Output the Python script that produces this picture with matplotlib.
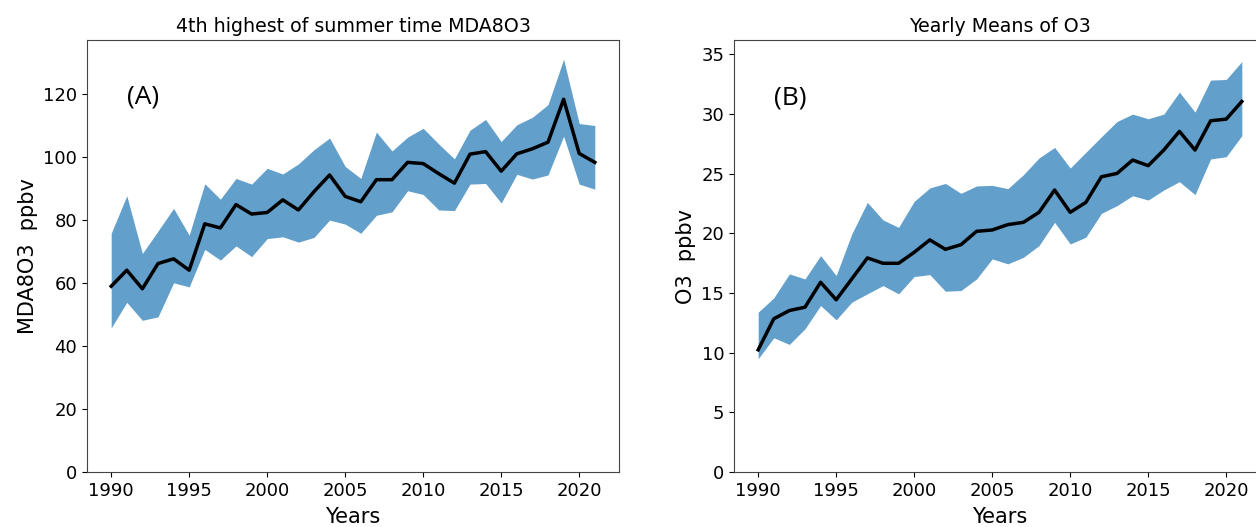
import numpy as np
import matplotlib
matplotlib.use('Agg')
import matplotlib.pyplot as plt

years = np.arange(1990, 2022)

# (A) 4th highest summer MDA8 O3, ppbv
mda8_mean = [58.9, 64.0, 58.1, 66.1, 67.6, 64.0, 78.7, 77.4, 84.8, 81.8, 82.3,
             86.3, 83.1, 88.9, 94.2, 87.4, 85.7, 92.7, 92.7, 98.2, 97.8, 94.6,
             91.6, 100.8, 101.6, 95.4, 100.9, 102.5, 104.6, 118.2, 101.0, 98.2]
mda8_upper = [75.7, 87.6, 69.3, 76.4, 83.6, 75.1, 91.4, 86.5, 93.1, 91.3, 96.3,
              94.5, 97.7, 102.2, 105.9, 96.9, 93.1, 107.8, 101.8, 106.2, 109.0,
              104.0, 99.3, 108.4, 111.8, 104.8, 110.1, 112.5, 116.5, 130.9,
              110.5, 109.9]
mda8_lower = [45.7, 53.8, 48.1, 49.2, 60.0, 58.7, 70.6, 67.2, 71.7, 68.3, 74.0,
              74.6, 72.9, 74.4, 79.9, 78.6, 75.7, 81.4, 82.5, 89.2, 88.0, 83.1,
              82.9, 91.3, 91.5, 85.3, 94.4, 92.9, 94.2, 106.5, 91.3, 89.7]

# (B) yearly means of O3, ppbv
o3_mean = [10.24, 12.84, 13.53, 13.81, 15.90, 14.43, 16.18, 17.94, 17.49, 17.49,
           18.41, 19.45, 18.66, 19.05, 20.17, 20.28, 20.73, 20.92, 21.76, 23.63,
           21.76, 22.59, 24.74, 25.02, 26.14, 25.67, 26.98, 28.54, 26.98, 29.43,
           29.57, 31.05]
o3_upper = [13.39, 14.59, 16.60, 16.18, 18.13, 16.46, 19.95, 22.59, 21.12, 20.50,
            22.68, 23.80, 24.18, 23.35, 23.97, 24.02, 23.74, 24.91, 26.31, 27.20,
            25.47, 26.78, 28.09, 29.37, 29.99, 29.60, 29.99, 31.83, 30.16, 32.84,
            32.89, 34.39]
o3_lower = [9.49, 11.25, 10.69, 12.00, 13.95, 12.75, 14.23, 14.93, 15.62, 14.93,
            16.38, 16.54, 15.15, 15.21, 16.18, 17.86, 17.44, 17.99, 18.97, 20.92,
            19.11, 19.67, 21.67, 22.32, 23.15, 22.79, 23.63, 24.33, 23.24, 26.23,
            26.42, 28.18]

fig = plt.figure(figsize=(12.56, 5.27), dpi=100)
W, H = 1256, 527
# right panel runs past the figure edge (original was cropped)
axA = fig.add_axes([87 / W, 1 - 472 / H, 532 / W, 432 / H])
axB = fig.add_axes([734 / W, 1 - 472 / H, 532 / W, 432 / H])

panels = [
    (axA, mda8_mean, mda8_lower, mda8_upper, '4th highest of summer time MDA8O3',
     'MDA8O3  ppbv', '(A)', 137, 119),
    (axB, o3_mean, o3_lower, o3_upper, 'Yearly Means of O3',
     'O3  ppbv', '(B)', 36.2, 31.3),
]

for ax, mean, lo, hi, title, ylabel, tag, ytop, ytag in panels:
    ax.fill_between(years, lo, hi, color='tab:blue', alpha=0.7, linewidth=0)
    ax.plot(years, mean, color='black', linewidth=2.5)
    ax.set_xlim(1988.45, 2022.55)
    ax.set_ylim(0, ytop)
    ax.set_xticks([1990, 1995, 2000, 2005, 2010, 2015, 2020])
    ax.tick_params(labelsize=13)
    ax.set_title(title, fontsize=13.7)
    ax.set_xlabel('Years', fontsize=15, labelpad=5)
    ax.set_ylabel(ylabel, fontsize=15)
    ax.text(1991, ytag, tag, fontsize=19, va='center', family='Open Sans')
    for s in ax.spines.values():
        s.set_color('#444444')

fig.savefig('out.png', dpi=100)
